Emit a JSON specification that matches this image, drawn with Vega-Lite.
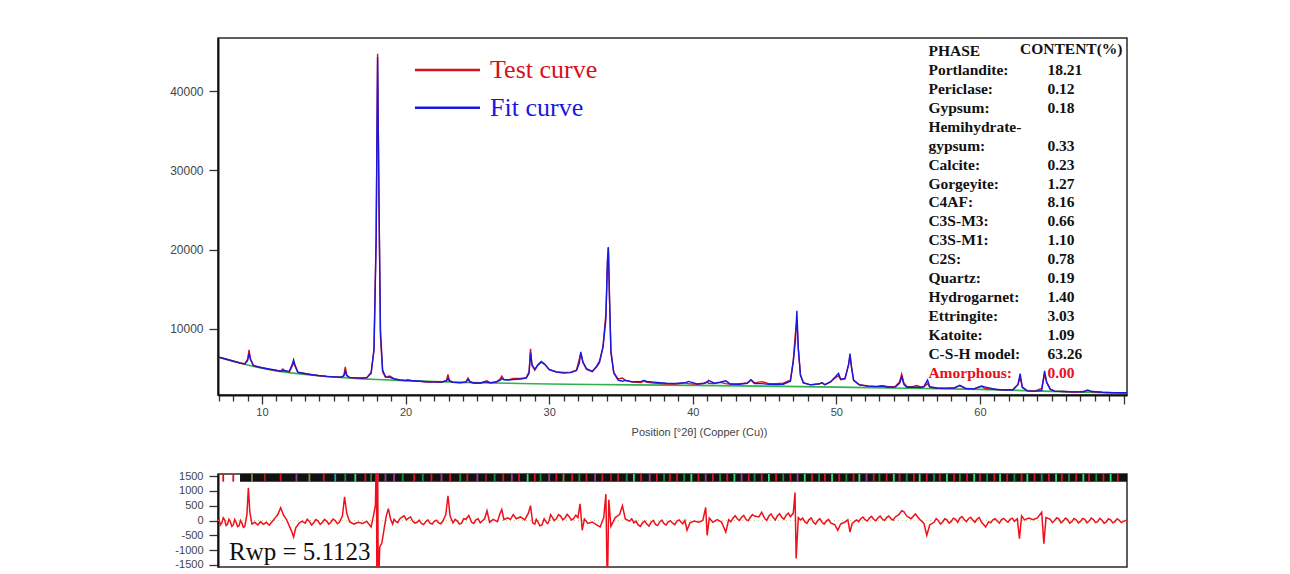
{
  "$schema": "https://vega.github.io/schema/vega-lite/v6.json",
  "padding": {"left": 168, "top": 37, "right": 0, "bottom": 0},
  "spacing": 79,
  "bounds": "flush",
  "background": "white",
  "datasets": {
    "xrd": [
      {"x":7.0,"o":6450,"c":6420},{"x":7.5,"o":6200,"c":6180},{"x":8.0,"o":5950,"c":5930},{"x":8.5,"o":5700,"c":5690},{"x":8.8,"o":5550,"c":5600},{"x":9.0,"o":6200,"c":6000},{"x":9.1,"o":7350,"c":6900},{"x":9.2,"o":6100,"c":6200},{"x":9.4,"o":5350,"c":5400},{"x":9.7,"o":5200,"c":5250},{"x":10.0,"o":5100,"c":5100},{"x":10.5,"o":4900,"c":4950},{"x":11.0,"o":4750,"c":4780},{"x":11.3,"o":4700,"c":4650},{"x":11.45,"o":4950,"c":4750},{"x":11.6,"o":4700,"c":4720},{"x":11.9,"o":4550,"c":4650},{"x":12.1,"o":5300,"c":5500},{"x":12.2,"o":5800,"c":6100},{"x":12.3,"o":5300,"c":5450},{"x":12.5,"o":4500,"c":4550},{"x":13.0,"o":4350,"c":4380},{"x":13.5,"o":4200,"c":4220},{"x":14.0,"o":4100,"c":4110},{"x":14.5,"o":4000,"c":4010},{"x":15.0,"o":3950,"c":3950},{"x":15.5,"o":3900,"c":3910},{"x":15.7,"o":4150,"c":4050},{"x":15.8,"o":5200,"c":4700},{"x":15.9,"o":4200,"c":4100},{"x":16.1,"o":3850,"c":3880},{"x":16.5,"o":3800,"c":3830},{"x":17.0,"o":3780,"c":3800},{"x":17.3,"o":3850,"c":3860},{"x":17.6,"o":4400,"c":4500},{"x":17.8,"o":7500,"c":7300},{"x":17.95,"o":22000,"c":21000},{"x":18.05,"o":44700,"c":44300},{"x":18.15,"o":25000,"c":26000},{"x":18.25,"o":9000,"c":9800},{"x":18.4,"o":4600,"c":4800},{"x":18.6,"o":3900,"c":3950},{"x":18.9,"o":4050,"c":3900},{"x":19.2,"o":3700,"c":3720},{"x":19.6,"o":3550,"c":3560},{"x":20.0,"o":3500,"c":3480},{"x":20.15,"o":3600,"c":3500},{"x":20.5,"o":3450,"c":3460},{"x":21.0,"o":3380,"c":3400},{"x":21.5,"o":3300,"c":3330},{"x":22.0,"o":3300,"c":3320},{"x":22.5,"o":3280,"c":3300},{"x":22.85,"o":3500,"c":3450},{"x":22.95,"o":4250,"c":3800},{"x":23.05,"o":3500,"c":3450},{"x":23.3,"o":3250,"c":3280},{"x":23.8,"o":3200,"c":3220},{"x":24.2,"o":3300,"c":3280},{"x":24.35,"o":3800,"c":3650},{"x":24.5,"o":3300,"c":3300},{"x":24.8,"o":3150,"c":3170},{"x":25.2,"o":3150,"c":3180},{"x":25.5,"o":3350,"c":3300},{"x":25.65,"o":3450,"c":3300},{"x":25.9,"o":3200,"c":3220},{"x":26.3,"o":3300,"c":3300},{"x":26.6,"o":3700,"c":3550},{"x":26.7,"o":4050,"c":3750},{"x":26.85,"o":3600,"c":3580},{"x":27.2,"o":3600,"c":3560},{"x":27.5,"o":3750,"c":3600},{"x":28.0,"o":3750,"c":3680},{"x":28.4,"o":3850,"c":3800},{"x":28.6,"o":4600,"c":4400},{"x":28.7,"o":7480,"c":7000},{"x":28.8,"o":5400,"c":5500},{"x":29.0,"o":4800,"c":4900},{"x":29.2,"o":5400,"c":5450},{"x":29.45,"o":5800,"c":5900},{"x":29.7,"o":5500,"c":5550},{"x":30.0,"o":4900,"c":4850},{"x":30.5,"o":4600,"c":4550},{"x":31.0,"o":4500,"c":4420},{"x":31.5,"o":4550,"c":4480},{"x":31.9,"o":4800,"c":4750},{"x":32.1,"o":6200,"c":5700},{"x":32.2,"o":6900,"c":7100},{"x":32.35,"o":5800,"c":5800},{"x":32.6,"o":4900,"c":4980},{"x":33.0,"o":4600,"c":4650},{"x":33.3,"o":5200,"c":5300},{"x":33.5,"o":5700,"c":5900},{"x":33.75,"o":7800,"c":7700},{"x":33.95,"o":12000,"c":11200},{"x":34.05,"o":17500,"c":18500},{"x":34.12,"o":20300,"c":20300},{"x":34.2,"o":14000,"c":14000},{"x":34.3,"o":7000,"c":7200},{"x":34.5,"o":4500,"c":4450},{"x":34.8,"o":3700,"c":3550},{"x":35.1,"o":3800,"c":3400},{"x":35.3,"o":3550,"c":3500},{"x":35.8,"o":3300,"c":3320},{"x":36.4,"o":3250,"c":3380},{"x":36.6,"o":3450,"c":3500},{"x":36.8,"o":3250,"c":3370},{"x":37.5,"o":3150,"c":3260},{"x":38.2,"o":3050,"c":3150},{"x":38.8,"o":3050,"c":3120},{"x":39.5,"o":3200,"c":3220},{"x":39.7,"o":3100,"c":3380},{"x":40.3,"o":3000,"c":3060},{"x":40.8,"o":3150,"c":3150},{"x":41.0,"o":3350,"c":3250},{"x":41.1,"o":3150,"c":3500},{"x":41.5,"o":3100,"c":3150},{"x":41.9,"o":3250,"c":3270},{"x":42.3,"o":3100,"c":3450},{"x":42.6,"o":3050,"c":3060},{"x":43.2,"o":3050,"c":3020},{"x":43.8,"o":3200,"c":3150},{"x":44.05,"o":3600,"c":3550},{"x":44.3,"o":3200,"c":3120},{"x":44.8,"o":3350,"c":3100},{"x":45.3,"o":3100,"c":3000},{"x":45.8,"o":3100,"c":2980},{"x":46.3,"o":3150,"c":3020},{"x":46.8,"o":3550,"c":3400},{"x":47.0,"o":6000,"c":5900},{"x":47.15,"o":9500,"c":8600},{"x":47.25,"o":11100,"c":12300},{"x":47.35,"o":7500,"c":7500},{"x":47.5,"o":4200,"c":4150},{"x":47.7,"o":3200,"c":3220},{"x":48.2,"o":2950,"c":2940},{"x":48.8,"o":3050,"c":3080},{"x":49.0,"o":3200,"c":3220},{"x":49.2,"o":2950,"c":2960},{"x":49.6,"o":3300,"c":3350},{"x":49.9,"o":3800,"c":3900},{"x":50.15,"o":4100,"c":4400},{"x":50.3,"o":3600,"c":3650},{"x":50.6,"o":3700,"c":3740},{"x":50.85,"o":5500,"c":5500},{"x":50.95,"o":6600,"c":6900},{"x":51.05,"o":5200,"c":5250},{"x":51.2,"o":3500,"c":3550},{"x":51.6,"o":2950,"c":2940},{"x":52.2,"o":2800,"c":2780},{"x":52.8,"o":2750,"c":2720},{"x":53.2,"o":2850,"c":2800},{"x":53.6,"o":2700,"c":2650},{"x":54.1,"o":2750,"c":2680},{"x":54.4,"o":3300,"c":3150},{"x":54.55,"o":4300,"c":3950},{"x":54.7,"o":3200,"c":3000},{"x":54.9,"o":2750,"c":2650},{"x":55.3,"o":2700,"c":2650},{"x":55.6,"o":2850,"c":2650},{"x":55.9,"o":2650,"c":2620},{"x":56.1,"o":2700,"c":2750},{"x":56.35,"o":3100,"c":3550},{"x":56.5,"o":2650,"c":2700},{"x":57.0,"o":2550,"c":2550},{"x":57.6,"o":2500,"c":2520},{"x":58.2,"o":2550,"c":2540},{"x":58.6,"o":2900,"c":2850},{"x":59.0,"o":2500,"c":2480},{"x":59.6,"o":2450,"c":2440},{"x":60.1,"o":2750,"c":2800},{"x":60.4,"o":2450,"c":2650},{"x":61.2,"o":2350,"c":2350},{"x":61.8,"o":2300,"c":2300},{"x":62.3,"o":2350,"c":2330},{"x":62.65,"o":3000,"c":3000},{"x":62.8,"o":3900,"c":4350},{"x":62.95,"o":2700,"c":2600},{"x":63.3,"o":2200,"c":2180},{"x":63.8,"o":2150,"c":2120},{"x":64.3,"o":2500,"c":2250},{"x":64.5,"o":4250,"c":4700},{"x":64.65,"o":3300,"c":3200},{"x":64.9,"o":2400,"c":2380},{"x":65.2,"o":2150,"c":2150},{"x":65.8,"o":2100,"c":2110},{"x":66.5,"o":2050,"c":2060},{"x":67.2,"o":2100,"c":2080},{"x":67.5,"o":2300,"c":2250},{"x":67.8,"o":2100,"c":2100},{"x":68.5,"o":2000,"c":2010},{"x":69.2,"o":1950,"c":1960},{"x":70.24,"o":1950,"c":1950}
    ],
    "bg": [
      {"x":7,"b":6400},{"x":8,"b":5900},{"x":9,"b":5450},{"x":10,"b":5050},{"x":11,"b":4700},{"x":12,"b":4450},{"x":13,"b":4250},{"x":14,"b":4080},{"x":15,"b":3930},{"x":16,"b":3800},{"x":17,"b":3700},{"x":18,"b":3620},{"x":20,"b":3480},{"x":22,"b":3360},{"x":24,"b":3260},{"x":26,"b":3180},{"x":28,"b":3120},{"x":30,"b":3060},{"x":33,"b":2990},{"x":36,"b":2940},{"x":40,"b":2880},{"x":45,"b":2780},{"x":50,"b":2660},{"x":55,"b":2520},{"x":60,"b":2380},{"x":65,"b":2120},{"x":70.24,"b":1900}
    ],
    "diff": [
      {"x":7.0,"d":60},{"x":7.2,"d":-80},{"x":7.4,"d":20},{"x":7.6,"d":-120},{"x":7.8,"d":-40},{"x":8.0,"d":-150},{"x":8.2,"d":-60},{"x":8.4,"d":-180},{"x":8.6,"d":-90},{"x":8.8,"d":-200},{"x":8.95,"d":200},{"x":9.05,"d":1100},{"x":9.15,"d":300},{"x":9.3,"d":-120},{"x":9.5,"d":-60},{"x":9.7,"d":-150},{"x":9.9,"d":-40},{"x":10.1,"d":-130},{"x":10.3,"d":-60},{"x":10.5,"d":-160},{"x":10.7,"d":-40},{"x":10.9,"d":80},{"x":11.1,"d":200},{"x":11.3,"d":430},{"x":11.5,"d":180},{"x":11.7,"d":40},{"x":11.9,"d":-180},{"x":12.05,"d":-350},{"x":12.2,"d":-560},{"x":12.35,"d":-250},{"x":12.6,"d":-80},{"x":12.8,"d":-20},{"x":13.0,"d":-90},{"x":13.3,"d":-30},{"x":13.6,"d":-80},{"x":13.9,"d":-10},{"x":14.2,"d":-70},{"x":14.5,"d":-20},{"x":14.8,"d":-60},{"x":15.1,"d":0},{"x":15.4,"d":-50},{"x":15.6,"d":150},{"x":15.75,"d":800},{"x":15.9,"d":250},{"x":16.1,"d":-40},{"x":16.4,"d":-120},{"x":16.7,"d":-60},{"x":17.0,"d":-100},{"x":17.3,"d":-30},{"x":17.6,"d":-220},{"x":17.8,"d":250},{"x":17.9,"d":520},{"x":17.97,"d":2500},{"x":18.0,"d":-2500},{"x":18.05,"d":2500},{"x":18.1,"d":-2500},{"x":18.2,"d":-900},{"x":18.35,"d":-750},{"x":18.5,"d":-300},{"x":18.65,"d":150},{"x":18.8,"d":400},{"x":18.95,"d":50},{"x":19.1,"d":-120},{"x":19.3,"d":-20},{"x":19.6,"d":60},{"x":19.9,"d":160},{"x":20.2,"d":80},{"x":20.5,"d":-30},{"x":20.8,"d":-60},{"x":21.1,"d":-100},{"x":21.4,"d":-40},{"x":21.7,"d":-90},{"x":22.0,"d":-30},{"x":22.3,"d":-80},{"x":22.6,"d":-20},{"x":22.8,"d":200},{"x":22.95,"d":830},{"x":23.1,"d":150},{"x":23.3,"d":-80},{"x":23.6,"d":-20},{"x":23.9,"d":-90},{"x":24.2,"d":40},{"x":24.4,"d":170},{"x":24.6,"d":-60},{"x":24.9,"d":20},{"x":25.2,"d":-80},{"x":25.5,"d":60},{"x":25.67,"d":330},{"x":25.85,"d":-60},{"x":26.1,"d":40},{"x":26.4,"d":-40},{"x":26.55,"d":200},{"x":26.7,"d":370},{"x":26.85,"d":30},{"x":27.1,"d":90},{"x":27.3,"d":40},{"x":27.5,"d":200},{"x":27.7,"d":60},{"x":28.0,"d":120},{"x":28.3,"d":20},{"x":28.55,"d":250},{"x":28.7,"d":500},{"x":28.85,"d":-80},{"x":29.0,"d":-120},{"x":29.2,"d":-40},{"x":29.5,"d":-150},{"x":29.8,"d":-60},{"x":30.0,"d":0},{"x":30.2,"d":120},{"x":30.5,"d":60},{"x":30.8,"d":150},{"x":31.1,"d":80},{"x":31.4,"d":130},{"x":31.7,"d":60},{"x":32.0,"d":100},{"x":32.15,"d":560},{"x":32.3,"d":-330},{"x":32.45,"d":50},{"x":32.7,"d":-100},{"x":33.0,"d":-50},{"x":33.3,"d":-150},{"x":33.55,"d":-220},{"x":33.8,"d":100},{"x":33.95,"d":890},{"x":34.05,"d":-2500},{"x":34.15,"d":700},{"x":34.3,"d":-200},{"x":34.6,"d":100},{"x":34.9,"d":200},{"x":35.1,"d":500},{"x":35.3,"d":50},{"x":35.6,"d":-20},{"x":35.9,"d":-80},{"x":36.2,"d":-150},{"x":36.5,"d":-80},{"x":36.8,"d":-120},{"x":37.1,"d":-60},{"x":37.4,"d":-130},{"x":37.7,"d":-50},{"x":38.0,"d":-110},{"x":38.3,"d":-40},{"x":38.6,"d":-90},{"x":38.9,"d":-20},{"x":39.2,"d":-60},{"x":39.45,"d":0},{"x":39.6,"d":-330},{"x":39.8,"d":-80},{"x":40.1,"d":-20},{"x":40.4,"d":-60},{"x":40.7,"d":0},{"x":40.9,"d":440},{"x":41.0,"d":-500},{"x":41.15,"d":80},{"x":41.4,"d":-60},{"x":41.7,"d":30},{"x":42.0,"d":-50},{"x":42.3,"d":-390},{"x":42.5,"d":30},{"x":42.8,"d":80},{"x":43.1,"d":60},{"x":43.4,"d":110},{"x":43.7,"d":40},{"x":44.0,"d":100},{"x":44.3,"d":150},{"x":44.6,"d":120},{"x":44.8,"d":280},{"x":45.0,"d":80},{"x":45.3,"d":150},{"x":45.6,"d":100},{"x":45.9,"d":160},{"x":46.2,"d":110},{"x":46.5,"d":180},{"x":46.8,"d":130},{"x":47.0,"d":250},{"x":47.12,"d":944},{"x":47.2,"d":-1280},{"x":47.35,"d":100},{"x":47.5,"d":20},{"x":47.8,"d":-40},{"x":48.1,"d":30},{"x":48.4,"d":-60},{"x":48.7,"d":0},{"x":49.0,"d":-60},{"x":49.3,"d":-20},{"x":49.6,"d":-80},{"x":49.9,"d":-150},{"x":50.1,"d":-330},{"x":50.3,"d":-120},{"x":50.6,"d":-50},{"x":50.8,"d":20},{"x":50.95,"d":-390},{"x":51.1,"d":-100},{"x":51.4,"d":20},{"x":51.7,"d":60},{"x":52.0,"d":30},{"x":52.3,"d":80},{"x":52.6,"d":40},{"x":52.9,"d":90},{"x":53.2,"d":50},{"x":53.5,"d":100},{"x":53.8,"d":60},{"x":54.1,"d":120},{"x":54.35,"d":200},{"x":54.55,"d":330},{"x":54.7,"d":300},{"x":54.9,"d":150},{"x":55.2,"d":60},{"x":55.5,"d":220},{"x":55.8,"d":40},{"x":56.1,"d":-100},{"x":56.3,"d":-500},{"x":56.5,"d":-150},{"x":56.8,"d":-60},{"x":57.1,"d":0},{"x":57.4,"d":-50},{"x":57.7,"d":20},{"x":58.0,"d":-30},{"x":58.3,"d":40},{"x":58.6,"d":80},{"x":58.9,"d":30},{"x":59.2,"d":60},{"x":59.5,"d":20},{"x":59.8,"d":50},{"x":60.1,"d":-50},{"x":60.4,"d":-220},{"x":60.6,"d":-40},{"x":60.9,"d":20},{"x":61.2,"d":-20},{"x":61.5,"d":30},{"x":61.8,"d":0},{"x":62.1,"d":40},{"x":62.4,"d":-30},{"x":62.6,"d":60},{"x":62.75,"d":-610},{"x":62.9,"d":160},{"x":63.1,"d":20},{"x":63.4,"d":80},{"x":63.7,"d":30},{"x":64.0,"d":90},{"x":64.3,"d":280},{"x":64.45,"d":-780},{"x":64.6,"d":100},{"x":64.9,"d":40},{"x":65.2,"d":0},{"x":65.5,"d":50},{"x":65.8,"d":-20},{"x":66.1,"d":30},{"x":66.4,"d":-40},{"x":66.7,"d":20},{"x":67.0,"d":-30},{"x":67.3,"d":40},{"x":67.6,"d":-20},{"x":67.9,"d":30},{"x":68.2,"d":-40},{"x":68.5,"d":10},{"x":68.8,"d":-50},{"x":69.1,"d":20},{"x":69.4,"d":-40},{"x":69.7,"d":10},{"x":70.0,"d":-30},{"x":70.24,"d":20},
      {"x":7.1,"d":-150},{"x":7.3,"d":90},{"x":7.5,"d":-170},{"x":7.7,"d":40},{"x":7.9,"d":-200},{"x":8.1,"d":30},{"x":8.3,"d":-210},{"x":8.5,"d":0},{"x":8.7,"d":-230},
      {"x":13.15,"d":40},{"x":13.45,"d":-150},{"x":13.75,"d":30},{"x":14.05,"d":-130},{"x":14.35,"d":40},{"x":14.65,"d":-120},{"x":14.95,"d":50},{"x":15.25,"d":-110},
      {"x":19.2,"d":40},{"x":19.45,"d":-70},{"x":19.75,"d":110},{"x":20.05,"d":20},{"x":20.35,"d":120},{"x":20.65,"d":-90},{"x":20.95,"d":10},{"x":21.25,"d":-140},{"x":21.55,"d":20},{"x":21.85,"d":-120},{"x":22.15,"d":10},{"x":22.45,"d":-110},
      {"x":23.45,"d":40},{"x":23.75,"d":-120},{"x":24.05,"d":60},{"x":24.75,"d":-100},{"x":25.05,"d":60},
      {"x":29.1,"d":40},{"x":29.35,"d":-180},{"x":29.65,"d":60},{"x":29.9,"d":-100},{"x":30.1,"d":200},{"x":30.35,"d":0},{"x":30.65,"d":200},{"x":30.95,"d":20},{"x":31.25,"d":210},{"x":31.55,"d":20},{"x":31.85,"d":180},
      {"x":35.75,"d":60},{"x":36.05,"d":-20},{"x":36.35,"d":-200},{"x":36.65,"d":-20},{"x":36.95,"d":-190},{"x":37.25,"d":0},{"x":37.55,"d":-170},{"x":37.85,"d":10},{"x":38.15,"d":-150},{"x":38.45,"d":-10},{"x":38.75,"d":-140},{"x":39.05,"d":20},{"x":39.3,"d":-110},
      {"x":42.65,"d":-40},{"x":42.95,"d":160},{"x":43.25,"d":0},{"x":43.55,"d":170},{"x":43.85,"d":-10},{"x":44.15,"d":200},{"x":45.15,"d":0},{"x":45.45,"d":220},{"x":45.75,"d":20},{"x":46.05,"d":230},{"x":46.35,"d":40},{"x":46.65,"d":250},
      {"x":47.65,"d":80},{"x":47.95,"d":-100},{"x":48.25,"d":90},{"x":48.55,"d":-120},{"x":48.85,"d":60},{"x":49.15,"d":-120},{"x":49.45,"d":40},
      {"x":51.55,"d":-40},{"x":51.85,"d":120},{"x":52.15,"d":-20},{"x":52.45,"d":140},{"x":52.75,"d":-10},{"x":53.05,"d":150},{"x":53.35,"d":0},{"x":53.65,"d":150},{"x":53.95,"d":10},
      {"x":56.95,"d":60},{"x":57.25,"d":-120},{"x":57.55,"d":60},{"x":57.85,"d":-90},{"x":58.15,"d":80},{"x":58.45,"d":-60},{"x":58.75,"d":130},{"x":59.05,"d":-40},{"x":59.35,"d":110},{"x":59.65,"d":-60},{"x":59.95,"d":100},{"x":60.75,"d":-80},{"x":61.05,"d":60},{"x":61.35,"d":-90},{"x":61.65,"d":70},{"x":61.95,"d":-60},{"x":62.25,"d":80},
      {"x":65.05,"d":-70},{"x":65.35,"d":90},{"x":65.65,"d":-80},{"x":65.95,"d":80},{"x":66.25,"d":-90},{"x":66.55,"d":70},{"x":66.85,"d":-80},{"x":67.15,"d":70},{"x":67.45,"d":-80},{"x":67.75,"d":80},{"x":68.05,"d":-70},{"x":68.35,"d":70},{"x":68.65,"d":-90},{"x":68.95,"d":60},{"x":69.25,"d":-80},{"x":69.55,"d":60},{"x":69.85,"d":-70}
    ],
    "hkl": [
      {"x":7.3,"p":"Ettringite"},{"x":8.0,"p":"Ettringite"},{"x":9.3,"p":"Calcite"},{"x":10.2,"p":"Hydrogarnet"},{"x":11.3,"p":"Ettringite"},{"x":12.4,"p":"C4AF"},{"x":13.3,"p":"Calcite"},{"x":14.3,"p":"Ettringite"},{"x":15.1,"p":"C3S-M3"},{"x":15.8,"p":"C-S-H model"},{"x":16.5,"p":"Katoite"},{"x":17.2,"p":"Ettringite"},{"x":17.6,"p":"C-S-H model"},{"x":18.05,"p":"Gypsum"},{"x":18.6,"p":"C4AF"},{"x":19.2,"p":"C4AF"},{"x":19.8,"p":"C-S-H model"},{"x":20.6,"p":"Ettringite"},{"x":21.2,"p":"C-S-H model"},{"x":21.8,"p":"Ettringite"},{"x":22.5,"p":"C4AF"},{"x":23.1,"p":"Ettringite"},{"x":23.8,"p":"C-S-H model"},{"x":24.3,"p":"Ettringite"},{"x":25.0,"p":"C4AF"},{"x":25.6,"p":"Hydrogarnet"},{"x":26.2,"p":"C-S-H model"},{"x":26.8,"p":"Ettringite"},{"x":27.4,"p":"C4AF"},{"x":27.9,"p":"Ettringite"},{"x":28.5,"p":"Katoite"},{"x":29.0,"p":"Ettringite"},{"x":29.4,"p":"C-S-H model"},{"x":30.0,"p":"C4AF"},{"x":30.5,"p":"Ettringite"},{"x":31.0,"p":"Calcite"},{"x":31.6,"p":"Ettringite"},{"x":32.1,"p":"C-S-H model"},{"x":32.6,"p":"Ettringite"},{"x":33.2,"p":"C4AF"},{"x":33.7,"p":"Ettringite"},{"x":34.3,"p":"Hydrogarnet"},{"x":34.8,"p":"Ettringite"},{"x":35.4,"p":"C-S-H model"},{"x":35.9,"p":"Katoite"},{"x":36.4,"p":"Ettringite"},{"x":37.0,"p":"C4AF"},{"x":37.5,"p":"Ettringite"},{"x":38.0,"p":"C-S-H model"},{"x":38.4,"p":"Ettringite"},{"x":38.9,"p":"Ettringite"},{"x":39.4,"p":"C-S-H model"},{"x":39.9,"p":"Katoite"},{"x":40.4,"p":"Ettringite"},{"x":40.9,"p":"C4AF"},{"x":41.4,"p":"Ettringite"},{"x":41.9,"p":"C-S-H model"},{"x":42.4,"p":"Ettringite"},{"x":42.9,"p":"Katoite"},{"x":43.4,"p":"C4AF"},{"x":43.9,"p":"Ettringite"},{"x":44.3,"p":"C-S-H model"},{"x":44.8,"p":"Ettringite"},{"x":45.3,"p":"Katoite"},{"x":45.8,"p":"Ettringite"},{"x":46.3,"p":"C-S-H model"},{"x":46.8,"p":"Ettringite"},{"x":47.3,"p":"C4AF"},{"x":47.8,"p":"Katoite"},{"x":48.3,"p":"Ettringite"},{"x":48.8,"p":"C-S-H model"},{"x":49.2,"p":"Ettringite"},{"x":49.7,"p":"Katoite"},{"x":50.2,"p":"Ettringite"},{"x":50.7,"p":"C-S-H model"},{"x":51.2,"p":"Ettringite"},{"x":51.6,"p":"Katoite"},{"x":52.1,"p":"C4AF"},{"x":52.6,"p":"Ettringite"},{"x":53.0,"p":"C-S-H model"},{"x":53.5,"p":"Ettringite"},{"x":54.0,"p":"Katoite"},{"x":54.4,"p":"Ettringite"},{"x":54.9,"p":"C-S-H model"},{"x":55.4,"p":"Ettringite"},{"x":55.8,"p":"Katoite"},{"x":56.3,"p":"Ettringite"},{"x":56.8,"p":"C-S-H model"},{"x":57.2,"p":"Ettringite"},{"x":57.7,"p":"Katoite"},{"x":58.2,"p":"Ettringite"},{"x":58.6,"p":"C-S-H model"},{"x":59.1,"p":"Ettringite"},{"x":59.6,"p":"Katoite"},{"x":60.0,"p":"Ettringite"},{"x":60.5,"p":"C-S-H model"},{"x":61.0,"p":"Ettringite"},{"x":61.4,"p":"Katoite"},{"x":61.9,"p":"Ettringite"},{"x":62.4,"p":"C-S-H model"},{"x":62.9,"p":"Ettringite"},{"x":63.3,"p":"Katoite"},{"x":63.8,"p":"Ettringite"},{"x":64.3,"p":"C-S-H model"},{"x":64.8,"p":"Ettringite"},{"x":65.3,"p":"Katoite"},{"x":65.7,"p":"Ettringite"},{"x":66.2,"p":"C-S-H model"},{"x":66.7,"p":"Ettringite"},{"x":67.2,"p":"Katoite"},{"x":67.6,"p":"Ettringite"},{"x":68.1,"p":"C-S-H model"},{"x":68.6,"p":"Ettringite"},{"x":69.1,"p":"Katoite"},{"x":69.6,"p":"Ettringite"}
    ],
    "table": [
      {"i":0,"phase":"PHASE","content":"CONTENT(%)"},
      {"i":1,"phase":"Portlandite:","content":"18.21"},
      {"i":2,"phase":"Periclase:","content":"0.12"},
      {"i":3,"phase":"Gypsum:","content":"0.18"},
      {"i":4,"phase":"Hemihydrate-","content":""},
      {"i":5,"phase":"gypsum:","content":"0.33"},
      {"i":6,"phase":"Calcite:","content":"0.23"},
      {"i":7,"phase":"Gorgeyite:","content":"1.27"},
      {"i":8,"phase":"C4AF:","content":"8.16"},
      {"i":9,"phase":"C3S-M3:","content":"0.66"},
      {"i":10,"phase":"C3S-M1:","content":"1.10"},
      {"i":11,"phase":"C2S:","content":"0.78"},
      {"i":12,"phase":"Quartz:","content":"0.19"},
      {"i":13,"phase":"Hydrogarnet:","content":"1.40"},
      {"i":14,"phase":"Ettringite:","content":"3.03"},
      {"i":15,"phase":"Katoite:","content":"1.09"},
      {"i":16,"phase":"C-S-H model:","content":"63.26"},
      {"i":17,"phase":"Amorphous:","content":"0.00"}
    ],
    "key": [
      {"series":"o","label":"Test curve","i":1},
      {"series":"c","label":"Fit curve","i":3}
    ]
  },
  "vconcat": [
    {
      "width": 909,
      "height": 357,
      "resolve": {"scale": {"y": "independent"}},
      "layer": [
        {
          "data": {"name": "bg"},
          "mark": {"type": "line", "color": "#2db34a", "strokeWidth": 1.6, "clip": true},
          "encoding": {
            "x": {"field": "x", "type": "quantitative", "scale": {"domain": [6.936, 70.24], "nice": false, "zero": false},
              "axis": {"values": [7,8,9,10,11,12,13,14,15,16,17,18,19,20,21,22,23,24,25,26,27,28,29,30,31,32,33,34,35,36,37,38,39,40,41,42,43,44,45,46,47,48,49,50,51,52,53,54,55,56,57,58,59,60,61,62,63,64,65,66,67,68,69,70],
                "tickCount": 200, "format": "d",
                "labelExpr": "datum.value % 10 === 0 && datum.value < 70 ? datum.label : ''",
                "labelOverlap": false, "labelBound": false,
                "tickSize": {"condition": {"test": "datum.value % 10 === 0", "value": 9}, "value": 6},
                "labelPadding": 2, "labelFontSize": 11, "labelFlush": false,
                "title": "Position [°2θ] (Copper (Cu))", "titleFontSize": 11, "titleColor": "#444",
                "titleX": 481, "titleY": 40, "titleAlign": "center", "titleBaseline": "alphabetic"}},
            "y": {"field": "b", "type": "quantitative", "scale": {"domain": [1665, 46685], "nice": false, "zero": false},
              "axis": {"values": [10000, 20000, 30000, 40000], "tickCount": 50, "format": "d", "labelOverlap": false, "tickSize": 9, "labelPadding": 6, "labelFontSize": 12, "title": null}}
          }
        },
        {
          "data": {"name": "xrd"},
          "transform": [{"fold": ["o", "c"], "as": ["series", "value"]}],
          "mark": {"type": "line", "strokeWidth": 1.4, "clip": true},
          "encoding": {
            "x": {"field": "x", "type": "quantitative"},
            "y": {"field": "value", "type": "quantitative", "scale": {"domain": [1665, 46685], "nice": false, "zero": false}, "axis": null},
            "color": {"field": "series", "type": "nominal",
              "scale": {"domain": ["o", "c"], "range": ["#d8101c", "#1a18e0"]}, "legend": null}
          }
        },
        {
          "data": {"name": "key"},
          "mark": {"type": "rule", "strokeWidth": 2.5},
          "encoding": {
            "x": {"datum": 20.65, "type": "quantitative"},
            "x2": {"datum": 25.18},
            "y": {"field": "i", "type": "quantitative", "scale": {"domain": [-0.691, 18.178], "reverse": true, "nice": false, "zero": false}, "axis": null},
            "color": {"field": "series", "type": "nominal", "legend": null}
          }
        },
        {
          "data": {"name": "key"},
          "mark": {"type": "text", "align": "left", "baseline": "middle", "font": "Liberation Serif", "fontSize": 26},
          "encoding": {
            "x": {"datum": 25.88, "type": "quantitative"},
            "y": {"field": "i", "type": "quantitative", "scale": {"domain": [-0.691, 18.178], "reverse": true, "nice": false, "zero": false}, "axis": null},
            "text": {"field": "label"},
            "color": {"field": "series", "type": "nominal", "legend": null}
          }
        },
        {
          "data": {"name": "table"},
          "mark": {"type": "text", "align": "left", "baseline": "middle", "font": "Liberation Serif", "fontWeight": "bold", "fontSize": 15.5},
          "encoding": {
            "x": {"datum": 56.41, "type": "quantitative"},
            "y": {"field": "i", "type": "quantitative", "scale": {"domain": [-0.691, 18.178], "reverse": true, "nice": false, "zero": false}, "axis": null},
            "text": {"field": "phase"},
            "color": {"condition": {"test": "datum.i === 17", "value": "#e8101c"}, "value": "#111"}
          }
        },
        {
          "data": {"name": "table"},
          "transform": [{"filter": "datum.i > 0"}],
          "mark": {"type": "text", "align": "left", "baseline": "middle", "font": "Liberation Serif", "fontWeight": "bold", "fontSize": 15.5},
          "encoding": {
            "x": {"datum": 64.7, "type": "quantitative"},
            "y": {"field": "i", "type": "quantitative", "scale": {"domain": [-0.691, 18.178], "reverse": true, "nice": false, "zero": false}, "axis": null},
            "text": {"field": "content"},
            "color": {"condition": {"test": "datum.i === 17", "value": "#e8101c"}, "value": "#111"}
          }
        },
        {
          "data": {"name": "table"},
          "transform": [{"filter": "datum.i === 0"}],
          "mark": {"type": "text", "align": "left", "baseline": "middle", "font": "Liberation Serif", "fontWeight": "bold", "fontSize": 15.5, "color": "#111", "dy": -2},
          "encoding": {
            "x": {"datum": 62.79, "type": "quantitative"},
            "y": {"field": "i", "type": "quantitative", "scale": {"domain": [-0.691, 18.178], "reverse": true, "nice": false, "zero": false}, "axis": null},
            "text": {"field": "content"}
          }
        }
      ]
    },
    {
      "width": 909,
      "height": 93,
      "layer": [
        {
          "data": {"values": [{}]},
          "mark": {"type": "rect", "color": "#111", "clip": true},
          "encoding": {
            "x": {"datum": 8.47, "type": "quantitative", "scale": {"domain": [6.936, 70.24], "nice": false, "zero": false}, "axis": null},
            "x2": {"datum": 70.24},
            "y": {"datum": 1310, "type": "quantitative", "scale": {"domain": [-1570, 1570], "nice": false, "zero": false},
              "axis": {"values": [-1500, -1000, -500, 0, 500, 1000, 1500], "tickCount": 50, "format": "d", "labelExpr": "replace(datum.label, '−', '-')", "labelOverlap": false, "labelBound": false, "tickSize": 9, "labelPadding": 6, "labelFontSize": 11, "title": null}},
            "y2": {"datum": 1580}
          }
        },
        {
          "data": {"name": "hkl"},
          "mark": {"type": "rule", "strokeWidth": 1.8, "clip": true},
          "encoding": {
            "x": {"field": "x", "type": "quantitative"},
            "y": {"datum": 1310, "type": "quantitative"},
            "y2": {"datum": 1580},
            "color": {"field": "p", "type": "nominal", "legend": null,
              "scale": {"domain": ["Ettringite", "C-S-H model", "Katoite", "C4AF", "Gypsum", "Calcite", "C3S-M3", "Hydrogarnet"],
                "range": ["#d8141c", "#1e8c3a", "#38e070", "#9a3a90", "#ff6a90", "#8a8a30", "#2aa0a0", "#a02020"]}}
          }
        },
        {
          "data": {"values": [{}]},
          "mark": {"type": "rule", "color": "#c9c9a0", "strokeWidth": 1, "strokeDash": [1, 3]},
          "encoding": {"y": {"datum": 0, "type": "quantitative"}}
        },
        {
          "data": {"name": "diff"},
          "mark": {"type": "line", "color": "#f0101c", "strokeWidth": 1.5, "clip": true},
          "encoding": {
            "x": {"field": "x", "type": "quantitative"},
            "y": {"field": "d", "type": "quantitative"}
          }
        },
        {
          "data": {"values": [{"Rwp": 5.1123}]},
          "mark": {"type": "text", "align": "left", "baseline": "middle", "font": "Liberation Serif", "fontSize": 25, "color": "#111"},
          "encoding": {
            "x": {"datum": 7.7, "type": "quantitative"},
            "y": {"datum": -1060, "type": "quantitative"},
            "text": {"value": "Rwp = 5.1123"}
          }
        }
      ]
    }
  ],
  "resolve": {"scale": {"color": "independent", "x": "independent", "y": "independent"}, "legend": {"color": "independent"}},
  "config": {
    "font": "Liberation Sans",
    "view": {"stroke": "#2a2a2a", "strokeWidth": 1.5},
    "axis": {"domainColor": "#111", "domainWidth": 2, "tickColor": "#333", "tickWidth": 1.3, "labelColor": "#444", "labelFont": "Liberation Sans", "grid": false, "titleFont": "Liberation Sans", "titleFontWeight": "normal"}
  }
}
